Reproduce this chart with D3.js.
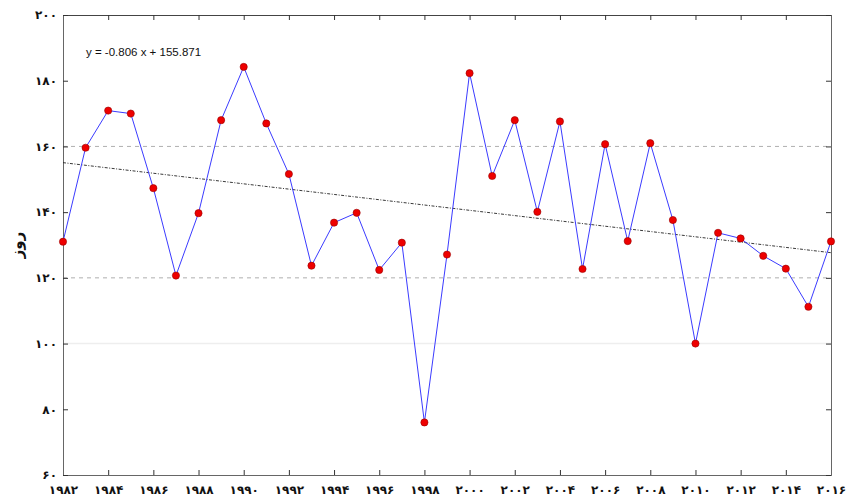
<!DOCTYPE html>
<html><head><meta charset="utf-8">
<script src="https://cdn.jsdelivr.net/npm/d3@7"></script>
<style>body{margin:0;background:#fff}svg{display:block}</style>
</head><body><svg id="c" width="846" height="497"></svg>
<script>
const years = d3.range(1982, 2017);
const values = [131,159.6,170.9,170,147.3,120.7,139.7,168,184.2,167,151.6,123.7,136.8,139.8,122.4,130.7,76,127.1,182.3,151,168,140.1,167.6,122.7,160.7,131.2,161,137.6,100,133.7,132,126.7,122.8,111.2,131.1];
const yTicks = [60,80,100,120,140,160,180,200];
const xTicks = d3.range(1982, 2017, 2);
const gridDashed = [120,160];
const slope = -0.806, intercept = 155.871;
const eqText = "y = -0.806 x + 155.871";
const yLabel = "روز";

(function(){
const fa = n => String(n).replace(/\d/g, d => "۰۱۲۳۴۵۶۷۸۹"[d]);
const svg = d3.select("#c");
const L=63, R=831, T=15, B=475;
const x = d3.scaleLinear().domain([1982,2016]).range([L,R]);
const y = d3.scaleLinear().domain([60,200]).range([B,T]);

svg.append("line").attr("x1",L).attr("x2",R).attr("y1",y(100)).attr("y2",y(100)).attr("stroke","#eeeeee").attr("stroke-width",1.5);
gridDashed.forEach(v=>svg.append("line").attr("x1",L).attr("x2",R).attr("y1",y(v)).attr("y2",y(v))
  .attr("stroke","#9a9a9a").attr("stroke-width",0.8).attr("stroke-dasharray","4,4"));

const font = "'DejaVu Sans', sans-serif";
const axCol = "#666";
const tickLen = 5;
const gB = svg.append("g").attr("transform",`translate(0,${B})`)
  .call(d3.axisBottom(x).tickValues(xTicks).tickSize(-tickLen).tickPadding(10).tickFormat(fa));
const gT = svg.append("g").attr("transform",`translate(0,${T})`)
  .call(d3.axisTop(x).tickValues(xTicks).tickSize(-tickLen).tickFormat(""));
const gL = svg.append("g").attr("transform",`translate(${L},0)`)
  .call(d3.axisLeft(y).tickValues(yTicks).tickSize(-tickLen).tickPadding(10).tickFormat(fa));
const gR = svg.append("g").attr("transform",`translate(${R},0)`)
  .call(d3.axisRight(y).tickValues(yTicks).tickSize(-tickLen).tickFormat(""));
[gB,gT,gL,gR].forEach(g=>{
  g.selectAll(".domain").attr("stroke",axCol);
  g.selectAll(".tick line").attr("stroke","#333");
  g.selectAll("text").attr("font-family",font).attr("font-size",12).attr("font-weight","bold").attr("fill","#111");
});
gT.select(".domain").attr("stroke","#444");
gL.selectAll(".tick text").attr("dx",4);

svg.append("line")
  .attr("x1",x(years[0])).attr("y1",y(slope*1+intercept))
  .attr("x2",x(years[years.length-1])).attr("y2",y(slope*years.length+intercept))
  .attr("stroke","#222").attr("stroke-width",0.9).attr("stroke-dasharray","3,1.5,1,1.5");

const line = d3.line().x((d,i)=>x(years[i])).y(d=>y(d));
svg.append("path").datum(values).attr("d",line).attr("fill","none").attr("stroke","#3b3bff").attr("stroke-width",1);
svg.selectAll("circle.p").data(values).join("circle").attr("class","p")
  .attr("cx",(d,i)=>x(years[i])).attr("cy",d=>y(d)).attr("r",3.6)
  .attr("fill","#ee0000").attr("stroke","#990000").attr("stroke-width",0.6);

svg.append("text").attr("x",86).attr("y",56).text(eqText)
  .attr("font-family","'Liberation Sans', Arial, sans-serif").attr("font-size",11.5).attr("fill","#111");

svg.append("text").attr("transform",`translate(22,${y(130)}) rotate(-90)`).attr("text-anchor","middle")
  .attr("font-family",font).attr("font-size",15).attr("font-weight","bold").attr("fill","#111").text(yLabel);
})();
</script></body></html>
